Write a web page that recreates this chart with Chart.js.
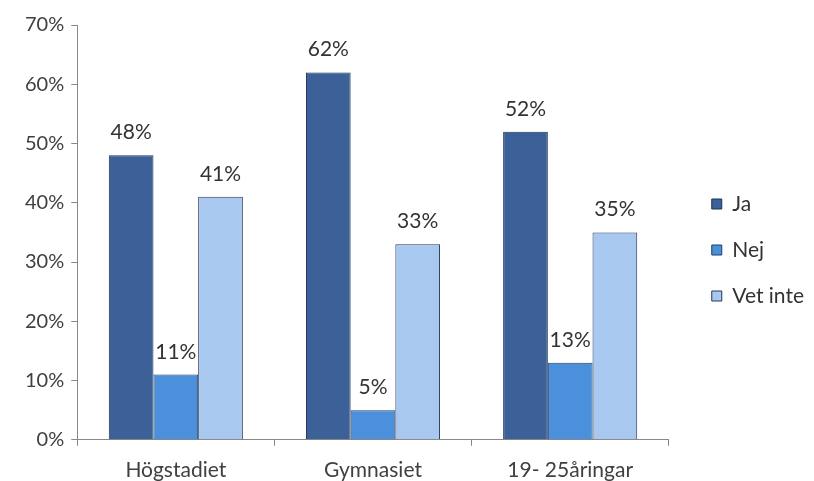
<!DOCTYPE html>
<html>
<head>
<meta charset="utf-8">
<script src="https://cdn.jsdelivr.net/npm/chart.js@4/dist/chart.umd.min.js"></script>
<style>
	html, body { margin: 0; padding: 0; background: #fff; }
	#wrap { width: 814px; height: 481px; }
</style>
</head>
<body>
<div id="wrap"><canvas id="chart"></canvas></div>
<script>
const categories = ['Högstadiet', 'Gymnasiet', '19- 25åringar'];
const jaValues = [48, 62, 52];
const nejValues = [11, 5, 13];
const vetInteValues = [41, 33, 35];
const yTicks = [0, 10, 20, 30, 40, 50, 60, 70];

const fontFamily = 'Lato, "Open Sans", sans-serif';

// Percent labels above each bar
const valueLabels = {
	id: 'valueLabels',
	afterDatasetsDraw(chart) {
		const ctx = chart.ctx;
		ctx.save();
		ctx.font = '21px ' + fontFamily;
		ctx.fillStyle = '#333';
		ctx.textAlign = 'center';
		ctx.textBaseline = 'alphabetic';
		chart.data.datasets.forEach((ds, i) => {
			chart.getDatasetMeta(i).data.forEach((bar, j) => {
				ctx.fillText(ds.data[j] + '%', bar.x, bar.y - 16);
			});
		});
		ctx.restore();
	}
};

// Nudge the legend right/up so it sits like the original
const legendShift = {
	id: 'legendShift',
	afterLayout(chart) {
		chart.legend.left += 18;
		chart.legend.right += 18;
		chart.legend.top -= 10;
		chart.legend.bottom -= 10;
	}
};

new Chart(document.getElementById('chart'), {
	type: 'bar',
	data: {
		labels: categories,
		datasets: [
			{ label: 'Ja', data: jaValues, backgroundColor: '#3c6198', borderColor: '#1d3259', borderWidth: 1 },
			{ label: 'Nej', data: nejValues, backgroundColor: '#4b90da', borderColor: '#213d66', borderWidth: 1 },
			{ label: 'Vet inte', data: vetInteValues, backgroundColor: '#a9c8f0', borderColor: '#29395a', borderWidth: 1 }
		]
	},
	options: {
		responsive: true,
		maintainAspectRatio: false,
		animation: false,
		categoryPercentage: 0.68,
		barPercentage: 1,
		layout: { padding: { left: 18, top: 25, right: 18, bottom: -14 } },
		plugins: {
			legend: {
				position: 'right',
				labels: {
					boxWidth: 10,
					boxHeight: 10,
					padding: 25,
					color: '#333',
					font: { family: fontFamily, size: 21 }
				}
			},
			tooltip: { enabled: false }
		},
		scales: {
			y: {
				min: 0,
				max: 70,
				afterBuildTicks: axis => { axis.ticks = yTicks.map(v => ({ value: v })); },
				border: { color: '#888', width: 1 },
				grid: { drawOnChartArea: false, tickLength: 6, color: '#888' },
				ticks: {
					callback: v => v + '%',
					color: '#404040',
					padding: 7,
					font: { family: fontFamily, size: 20 }
				}
			},
			x: {
				border: { color: '#888', width: 1 },
				grid: { drawOnChartArea: false, tickLength: 6, color: '#888', offset: true },
				ticks: {
					color: '#404040',
					padding: 12,
					font: { family: fontFamily, size: 21 }
				}
			}
		}
	},
	plugins: [valueLabels, legendShift]
});
</script>
</body>
</html>
